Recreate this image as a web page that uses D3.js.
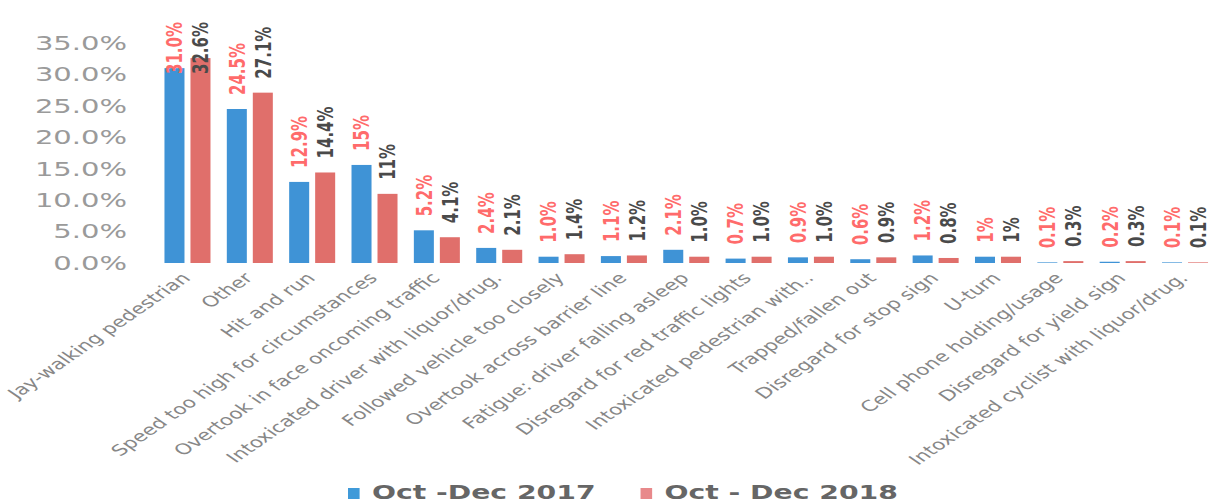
<!DOCTYPE html>
<html>
<head>
<meta charset="utf-8">
<script src="https://cdn.jsdelivr.net/npm/d3@7"></script>
<style>
  body { margin: 0; background: #fff; }
  svg { display: block; }
</style>
</head>
<body>
<div id="chart"></div>
<script>
var categories = [
    "Jay-walking pedestrian", "Other", "Hit and run", "Speed too high for circumstances",
    "Overtook  in face oncoming traffic", "Intoxicated driver with liquor/drug.",
    "Followed vehicle too closely", "Overtook across barrier line",
    "Fatigue: driver falling asleep", "Disregard for red traffic lights",
    "Intoxicated pedestrian with..", "Trapped/fallen out", "Disregard for stop sign",
    "U-turn", "Cell phone holding/usage", "Disregard for yield sign",
    "Intoxicated cyclist with liquor/drug."
];
var series = ["Oct -Dec 2017", "Oct - Dec 2018"];
var values2017 = [31.0, 24.5, 12.9, 15.6, 5.2, 2.4, 1.0, 1.1, 2.1, 0.7, 0.9, 0.6, 1.2, 1.0, 0.1, 0.2, 0.1];
var values2018 = [32.6, 27.1, 14.4, 11.0, 4.1, 2.1, 1.4, 1.2, 1.0, 1.0, 1.0, 0.9, 0.8, 1.0, 0.3, 0.3, 0.1];
var labels2017 = ["31.0%", "24.5%", "12.9%", "15%", "5.2%", "2.4%", "1.0%", "1.1%", "2.1%", "0.7%", "0.9%", "0.6%", "1.2%", "1%", "0.1%", "0.2%", "0.1%"];
var labels2018 = ["32.6%", "27.1%", "14.4%", "11%", "4.1%", "2.1%", "1.4%", "1.2%", "1.0%", "1.0%", "1.0%", "0.9%", "0.8%", "1%", "0.3%", "0.3%", "0.1%"];
var yTicks = [0, 5, 10, 15, 20, 25, 30, 35];

var width = 1211;
var height = 504;
// the chart is drawn narrow and then stretched sideways, like the picture
var K = 1.45;

var barColors = ["#3f93d6", "#e06f6b"];
var labelColors = ["#ff6b6b", "#4a4a4a"];
var legendColors = ["#3f9ad9", "#e8898b"];

var svg = d3.select('#chart')
            .append('svg')
            .attr('width', width)
            .attr('height', height);

var g = svg.append('g')
           .attr('transform', 'scale(' + K + ',1)');

var x0 = d3.scaleBand()
           .domain(categories)
           .range([156.3 / K, 1216.2 / K])
           .paddingInner(0.262)
           .paddingOuter(0.131);

var x1 = d3.scaleBand()
           .domain(series)
           .range([0, x0.bandwidth()])
           .paddingInner(0.23);

var y = d3.scaleLinear()
          .domain([0, 35])
          .range([263, 43]);

// y axis
var yAxis = d3.axisLeft(y)
              .tickValues(yTicks)
              .tickSize(0)
              .tickPadding(0)
              .tickFormat(function(d){ return d.toFixed(1) + '%'; });

var ya = g.append('g')
          .attr('transform', 'translate(' + (127 / K) + ',0)')
          .call(yAxis);
ya.select('.domain').remove();
ya.selectAll('text')
  .attr('font-family', 'DejaVu Sans')
  .attr('font-size', 20)
  .attr('fill', '#9a9a9a');

var rows = categories.map(function(c, i){
    return {
        cat: c,
        vals: [
            {s: 0, key: series[0], v: values2017[i], label: labels2017[i]},
            {s: 1, key: series[1], v: values2018[i], label: labels2018[i]}
        ]
    };
});

var groups = g.selectAll('g.grp')
              .data(rows)
              .enter()
              .append('g')
              .attr('class', 'grp')
              .attr('transform', function(d){ return 'translate(' + x0(d.cat) + ',0)'; });

groups.selectAll('rect')
      .data(function(d){ return d.vals; })
      .enter()
      .append('rect')
      .attr('x', function(d){ return x1(d.key); })
      .attr('y', function(d){ return y(d.v); })
      .attr('width', x1.bandwidth())
      .attr('height', function(d){ return y(0) - y(d.v); })
      .attr('fill', function(d){ return barColors[d.s]; });

// value labels, vertical, reading upwards (drawn in page pixels, glyphs widened by K)
var flat = [];
rows.forEach(function(r){
    r.vals.forEach(function(v){ flat.push({cat: r.cat, s: v.s, key: v.key, v: v.v, label: v.label}); });
});

svg.append('g')
   .selectAll('text')
   .data(flat)
   .enter()
   .append('text')
   .attr('font-family', 'DejaVu Sans')
   .attr('font-weight', 'bold')
   .attr('font-size', 15)
   .attr('fill', function(d){ return labelColors[d.s]; })
   .attr('text-anchor', 'start')
   .attr('dy', '0.36em')
   .text(function(d){ return d.label; })
   .each(function(d){
       var len = this.getComputedTextLength();
       var cx = (x0(d.cat) + x1(d.key) + x1.bandwidth() / 2) * K;
       var yy = Math.max(y(d.v) - 14, 22 + len);
       this.setAttribute('transform', 'matrix(0,-1,' + K + ',0,' + cx + ',' + yy + ')');
   });

// category labels
g.selectAll('text.cat')
 .data(categories)
 .enter()
 .append('text')
 .attr('class', 'cat')
 .attr('font-family', 'DejaVu Sans')
 .attr('font-size', 15)
 .attr('fill', '#878787')
 .attr('text-anchor', 'end')
 .attr('transform', function(d){
     var cx = x0(d) + x0.bandwidth() / 2 + 4 / K;
     return 'translate(' + cx + ',279) rotate(-45)';
 })
 .text(function(d){ return d; });

// legend
var legend = g.append('g');
var lx = 348 / K;
series.forEach(function(s, i){
    legend.append('rect')
          .attr('x', lx)
          .attr('y', 488)
          .attr('width', 8)
          .attr('height', 11)
          .attr('fill', legendColors[i]);
    var t = legend.append('text')
          .attr('x', lx + 16.5)
          .attr('y', 499)
          .attr('font-family', 'DejaVu Sans')
          .attr('font-weight', 'bold')
          .attr('font-size', 19.5)
          .attr('fill', '#666')
          .text(s);
    lx += 16.5 + t.node().getComputedTextLength() + 31;
});
</script>
</body>
</html>
